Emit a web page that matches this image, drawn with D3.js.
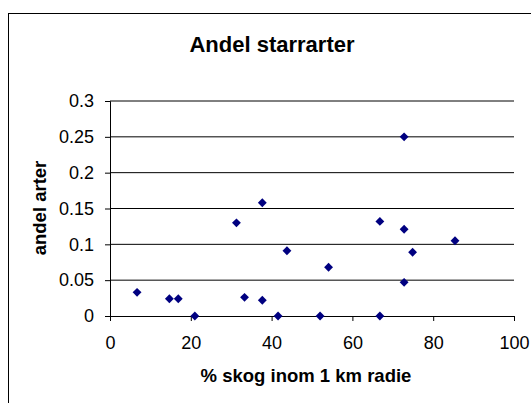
<!DOCTYPE html>
<html>
<head>
<meta charset="utf-8">
<script src="https://cdn.jsdelivr.net/npm/d3@7"></script>
<style>
  body { margin: 0; background: #fff; }
  text { font-family: "Liberation Sans", Arial, sans-serif; }
</style>
</head>
<body>
<div id="chart"></div>
<script>
// andel starrarter vs % skog
const skog = [6.7, 14.7, 16.9, 21.0, 31.3, 33.3, 37.7, 37.7, 41.6, 43.8, 52.0, 54.1, 66.8, 66.8, 72.8, 72.8, 72.8, 74.9, 85.4];
const andel = [0.033, 0.024, 0.024, 0, 0.13, 0.026, 0.158, 0.022, 0, 0.091, 0, 0.068, 0.132, 0, 0.25, 0.121, 0.047, 0.089, 0.105];
const xTicks = [0, 20, 40, 60, 80, 100];
const yTicks = [0, 0.05, 0.1, 0.15, 0.2, 0.25, 0.3];

const W = 531, H = 403;
const margin = { top: 101, right: 17, bottom: 87, left: 110 };
const width = W - margin.left - margin.right,
      height = H - margin.top - margin.bottom;

const svg = d3.select("#chart").append("svg")
    .attr("width", W)
    .attr("height", H);

// outer chart frame (runs off right and bottom)
svg.append("rect")
    .attr("x", 8.5).attr("y", 13.5)
    .attr("width", 700).attr("height", 600)
    .attr("fill", "none")
    .attr("stroke", "#000");

const g = svg.append("g")
    .attr("transform", `translate(${margin.left},${margin.top})`);

const x = d3.scaleLinear().domain([0, 100]).range([0, width]);
const y = d3.scaleLinear().domain([0, 0.3]).range([height, 0]);

// gridlines
g.selectAll(".grid")
    .data(yTicks.filter(d => d > 0))
    .enter().append("line")
    .attr("x1", 0).attr("x2", width)
    .attr("y1", d => y(d)).attr("y2", d => y(d))
    .attr("stroke", "#000");

const fmt = d => String(+d.toFixed(2));

const yAxis = g.append("g")
    .call(d3.axisLeft(y).tickValues(yTicks).tickFormat(fmt).tickSize(5).tickPadding(11));
const xAxis = g.append("g")
    .attr("transform", `translate(0,${height})`)
    .call(d3.axisBottom(x).tickValues(xTicks).tickSize(5).tickPadding(15));

[xAxis, yAxis].forEach(a => {
    a.select(".domain").attr("stroke", "#000");
    a.selectAll(".tick line").attr("stroke", "#000");
    a.selectAll("text").attr("font-size", 18).attr("fill", "#000")
        .style("font-family", "Liberation Sans, Arial, sans-serif");
});

// points
const diamond = d3.symbol().type(d3.symbolDiamond2).size(50);
g.selectAll(".pt")
    .data(skog.map((v, i) => [v, andel[i]]))
    .enter().append("path")
    .attr("d", diamond)
    .attr("transform", d => `translate(${x(d[0])},${y(d[1])})`)
    .attr("fill", "#000080");

svg.append("text")
    .attr("x", 272).attr("y", 52)
    .attr("text-anchor", "middle")
    .attr("font-size", 22).attr("font-weight", "bold")
    .text("Andel starrarter");

svg.append("text")
    .attr("x", margin.left + width / 2 - 6).attr("y", 382)
    .attr("text-anchor", "middle")
    .attr("font-size", 18.5).attr("font-weight", "bold")
    .text("% skog inom 1 km radie");

svg.append("text")
    .attr("transform", "translate(46,208) rotate(-90)")
    .attr("text-anchor", "middle")
    .attr("font-size", 18.5).attr("font-weight", "bold")
    .text("andel arter");
</script>
</body>
</html>
